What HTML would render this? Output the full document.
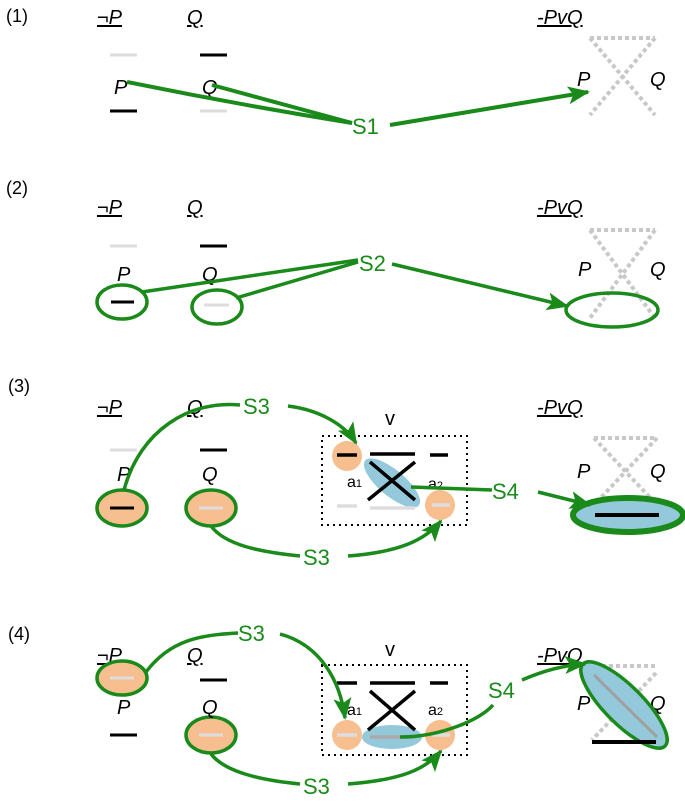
<!DOCTYPE html><html><head><style>body{margin:0;background:#fff}svg{display:block}text{font-family:"Liberation Sans",sans-serif}</style></head><body>
<svg width="685" height="802" viewBox="0 0 685 802" xmlns="http://www.w3.org/2000/svg">
<defs>
<marker id="a2" markerWidth="22" markerHeight="18" refX="20" refY="9" orient="auto" markerUnits="userSpaceOnUse"><path d="M0,0 L22,9 L0,18 L5,9 z" fill="#1a8a1a"/></marker></defs>
<g font-size="18" fill="#000">
<text x="6" y="22">(1)</text><text x="6" y="194">(2)</text><text x="8" y="392">(3)</text><text x="8" y="640">(4)</text>
</g>
<g font-size="20" font-style="italic" text-decoration="underline">
<text x="97" y="24">¬P</text><text x="187" y="24">Q</text><text x="537" y="24">-PvQ</text>
<text x="97" y="214">¬P</text><text x="187" y="214">Q</text><text x="537" y="214">-PvQ</text>
<text x="97" y="414">¬P</text><text x="187" y="414">Q</text><text x="537" y="414">-PvQ</text>
<text x="97" y="662">¬P</text><text x="187" y="662">Q</text><text x="537" y="662">-PvQ</text>
</g>
<!-- panel 1 -->
<g stroke-width="3">
<line x1="110" y1="55" x2="137" y2="55" stroke="#ddd"/><line x1="110" y1="111" x2="137" y2="111" stroke="#000"/>
<line x1="200" y1="55" x2="227" y2="55" stroke="#000"/><line x1="200" y1="111" x2="227" y2="111" stroke="#ddd"/>
</g>
<g font-size="20" font-style="italic"><text x="114" y="94">P</text><text x="202" y="94">Q</text><text x="577" y="86">P</text><text x="650" y="86">Q</text></g>
<g stroke="#c8c8c8" stroke-width="4" stroke-dasharray="4,3" fill="none">
<path d="M590,38 H655 M590,38 L655,115 M655,38 L590,115"/></g>
<g stroke="#1a8a1a" stroke-width="4" fill="none">
<path d="M127,82 Q240,105 352,123"/><path d="M212,85 L352,123"/>
<path d="M390,125 L588,92" marker-end="url(#a2)"/></g>
<text x="352" y="134" font-size="22" fill="#1a8a1a">S1</text>
<!-- panel 2 -->
<g stroke-width="3">
<line x1="110" y1="246" x2="137" y2="246" stroke="#ddd"/><line x1="200" y1="246" x2="227" y2="246" stroke="#000"/>
<line x1="111" y1="302" x2="134" y2="302" stroke="#000"/><line x1="204" y1="305" x2="229" y2="305" stroke="#ddd"/>
</g>
<g font-size="20" font-style="italic"><text x="117" y="281">P</text><text x="202" y="281">Q</text><text x="578" y="276">P</text><text x="650" y="276">Q</text></g>
<g stroke="#c8c8c8" stroke-width="4" stroke-dasharray="4,3" fill="none"><path d="M590,230 H655 M590,230 L655,318 M655,230 L590,318"/></g>
<g stroke="#1a8a1a" stroke-width="3.5" fill="none">
<ellipse cx="122" cy="302" rx="25" ry="17"/><ellipse cx="217" cy="307" rx="25" ry="17"/>
<path d="M142,292 L358,260"/><path d="M236,298 L358,262"/>
<path d="M392,264 L567,306" marker-end="url(#a2)"/>
<ellipse cx="612" cy="310" rx="46" ry="17"/></g>
<text x="359" y="271" font-size="22" fill="#1a8a1a">S2</text>
<!-- panel 3 -->
<g stroke-width="3">
<line x1="110" y1="450" x2="137" y2="450" stroke="#ddd"/><line x1="200" y1="450" x2="227" y2="450" stroke="#000"/>
</g>
<g font-size="20" font-style="italic"><text x="117" y="481">P</text><text x="202" y="481">Q</text><text x="577" y="478">P</text><text x="650" y="478">Q</text></g>
<ellipse cx="122" cy="508" rx="25" ry="18" fill="#f7bf8f" stroke="#1a8a1a" stroke-width="3.5"/>
<ellipse cx="211" cy="508" rx="25" ry="18" fill="#f7bf8f" stroke="#1a8a1a" stroke-width="3.5"/>
<line x1="110" y1="508" x2="134" y2="508" stroke="#000" stroke-width="3"/><line x1="199" y1="508" x2="223" y2="508" stroke="#ddd" stroke-width="3"/>
<rect x="322" y="436" width="145" height="89" fill="none" stroke="#000" stroke-width="2" stroke-dasharray="2,4"/>
<text x="385" y="425" font-size="20">v</text>
<ellipse cx="392" cy="483" rx="35" ry="13" transform="rotate(40 392 483)" fill="#93c9da"/>
<circle cx="347" cy="456" r="15" fill="#f7bf8f"/><circle cx="440" cy="505" r="15" fill="#f7bf8f"/>
<g stroke-width="3.5"><line x1="337" y1="455" x2="357" y2="455" stroke="#000"/><line x1="370" y1="454" x2="415" y2="454" stroke="#000"/><line x1="430" y1="455" x2="448" y2="455" stroke="#000"/>
<line x1="368" y1="500" x2="415" y2="462" stroke="#000"/><line x1="370" y1="462" x2="415" y2="500" stroke="#000"/>
<line x1="337" y1="506" x2="357" y2="506" stroke="#ddd"/><line x1="370" y1="508" x2="415" y2="508" stroke="#ddd"/><line x1="432" y1="505" x2="450" y2="505" stroke="#ddd"/></g>
<g font-size="16"><text x="347" y="487">a<tspan font-size="11">1</tspan></text><text x="428" y="489">a<tspan font-size="11">2</tspan></text></g>
<g stroke="#c8c8c8" stroke-width="4" stroke-dasharray="4,3" fill="none"><path d="M594,438 H657 M594,438 L657,505 M657,438 L594,505"/></g>
<ellipse cx="628" cy="515" rx="55" ry="17" fill="#93c9da" stroke="#1a8a1a" stroke-width="6"/>
<line x1="595" y1="515" x2="659" y2="515" stroke="#000" stroke-width="4"/>
<g stroke="#1a8a1a" stroke-width="3.5" fill="none">
<path d="M124,490 C140,430 190,400 240,405"/><path d="M288,406 C320,410 345,425 356,443" marker-end="url(#a2)"/>
<path d="M211,526 C225,545 260,552 300,556"/><path d="M348,556 C400,552 425,540 441,521" marker-end="url(#a2)"/>
<path d="M411,487 L492,490"/><path d="M538,492 L590,505" marker-end="url(#a2)"/></g>
<g font-size="22" fill="#1a8a1a"><text x="243" y="414">S3</text><text x="303" y="565">S3</text><text x="492" y="499">S4</text></g>
<!-- panel 4 -->
<ellipse cx="122" cy="678" rx="25" ry="17" fill="#f7bf8f" stroke="#1a8a1a" stroke-width="3.5"/>
<line x1="110" y1="678" x2="134" y2="678" stroke="#ddd" stroke-width="3"/>
<line x1="110" y1="735" x2="137" y2="735" stroke="#000" stroke-width="3"/>
<line x1="200" y1="680" x2="227" y2="680" stroke="#000" stroke-width="3"/>
<ellipse cx="211" cy="735" rx="25" ry="18" fill="#f7bf8f" stroke="#1a8a1a" stroke-width="3.5"/>
<line x1="199" y1="735" x2="223" y2="735" stroke="#ddd" stroke-width="3"/>
<g font-size="20" font-style="italic"><text x="117" y="714">P</text><text x="202" y="714">Q</text><text x="577" y="710">P</text><text x="650" y="710">Q</text></g>
<rect x="322" y="665" width="145" height="90" fill="none" stroke="#000" stroke-width="2" stroke-dasharray="2,4"/>
<text x="385" y="656" font-size="20">v</text>
<ellipse cx="392" cy="737" rx="30" ry="12" fill="#93c9da"/>
<circle cx="347" cy="735" r="15" fill="#f7bf8f"/><circle cx="440" cy="735" r="15" fill="#f7bf8f"/>
<g stroke-width="3.5"><line x1="337" y1="683" x2="357" y2="683" stroke="#000"/><line x1="370" y1="683" x2="415" y2="683" stroke="#000"/><line x1="430" y1="683" x2="448" y2="683" stroke="#000"/>
<line x1="368" y1="730" x2="415" y2="691" stroke="#000"/><line x1="370" y1="691" x2="415" y2="730" stroke="#000"/>
<line x1="337" y1="735" x2="357" y2="735" stroke="#ddd"/><line x1="370" y1="737" x2="415" y2="737" stroke="#aaa"/><line x1="432" y1="735" x2="450" y2="735" stroke="#ddd"/></g>
<g font-size="16"><text x="347" y="715">a<tspan font-size="11">1</tspan></text><text x="428" y="715">a<tspan font-size="11">2</tspan></text></g>
<g stroke="#c8c8c8" stroke-width="4" stroke-dasharray="4,3" fill="none"><path d="M595,666 H656 M656,673 L592,740"/></g>
<ellipse cx="624" cy="705" rx="58" ry="19" transform="rotate(45 624 705)" fill="#93c9da" stroke="#1a8a1a" stroke-width="3.5"/>
<line x1="594" y1="675" x2="657" y2="737" stroke="#a0a0a0" stroke-width="3"/>
<line x1="592" y1="742" x2="656" y2="742" stroke="#000" stroke-width="4"/>
<g stroke="#1a8a1a" stroke-width="3.5" fill="none">
<path d="M146,672 C170,640 200,635 238,633"/><path d="M280,634 C320,645 340,680 345,718" marker-end="url(#a2)"/>
<path d="M211,754 C225,772 260,780 300,784"/><path d="M348,784 C400,780 425,770 441,751" marker-end="url(#a2)"/>
<path d="M400,737 C440,737 480,720 493,705"/><path d="M522,680 C545,670 565,665 585,664" marker-end="url(#a2)"/></g>
<g font-size="22" fill="#1a8a1a"><text x="238" y="641">S3</text><text x="303" y="794">S3</text><text x="488" y="698">S4</text></g>
</svg></body></html>
